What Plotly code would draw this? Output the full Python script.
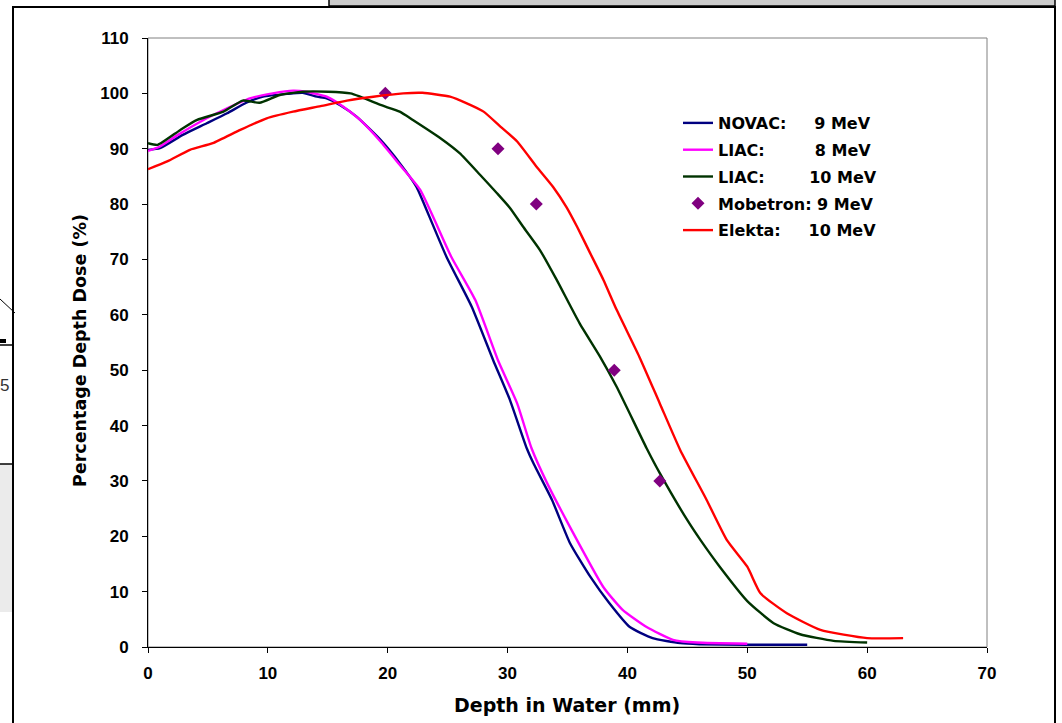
import plotly.graph_objects as go

# ---- data ----
novac_x = [0, 1, 2.9, 4.9, 6.6, 8.2, 9.6, 11.6, 12.9, 14.1, 14.9, 16, 17.4, 19.4, 21, 22.4, 22.9, 24.9, 27.0,
           28.8, 30.2, 31.6, 32.2, 33.7, 35.2, 36.9, 38.5, 40.2, 42.1, 44.4, 46, 50, 55]
novac_y = [89.8, 90.1, 92.5, 94.6, 96.4, 98.3, 99.4, 99.9, 100.1, 99.4, 99.1, 97.9, 95.8, 91.6, 87.4, 83.1, 80.7,
           70.5, 61.5, 51.8, 44.6, 35.9, 33.0, 26.6, 18.8, 12.7, 7.9, 3.6, 1.6, 0.7, 0.5, 0.4, 0.4]

liac8_x = [0, 1, 2.5, 4.9, 6.3, 8.5, 10.4, 12.1, 13.2, 14.9, 16.3, 17.7, 19.4, 21, 22.7, 25.3, 27.3, 29.2, 30.8,
           32.0, 33.3, 35.2, 38.0, 39.6, 41.6, 43.8, 45.8, 50]
liac8_y = [89.6, 90.4, 92.5, 95.5, 97.0, 99.1, 100, 100.5, 100.3, 99.4, 97.6, 95.2, 91.3, 87.1, 82.6, 70.5, 62.7,
           51.8, 44.0, 35.9, 29.6, 21.7, 10.8, 6.7, 3.6, 1.3, 0.8, 0.6]

liac10_x = [0, 0.8, 2.7, 4.1, 6.3, 7.9, 9.3, 11.0, 12.9, 15.0, 16.9, 17.7, 19.4, 21.0, 22.1, 24.4, 26.0, 27.7,
            29.1, 30.2, 31.3, 32.7, 34.1, 36.0, 37.7, 39.1, 41.6, 42.7, 45.0, 46.1, 47.7, 50.0, 52.2, 54.4,
            57.2, 60]
liac10_y = [91, 90.7, 93.4, 95.2, 96.7, 98.7, 98.3, 99.7, 100.3, 100.3, 100.0, 99.4, 97.9, 96.7, 95.2, 91.9,
            89.2, 85.3, 82.0, 79.3, 75.9, 71.7, 66.3, 58.5, 52.5, 47.0, 35.9, 31.4, 22.9, 19.3, 14.5, 8.3,
            4.3, 2.3, 1.1, 0.8]

mobetron_x = [19.8, 29.2, 32.4, 38.9, 42.7]
mobetron_y = [100, 90, 80, 50, 30]

elekta_x = [0, 1.6, 3.5, 5.4, 7.7, 9.9, 12.1, 14.4, 16.6, 18.8, 21.3, 22.9, 25.2, 26.6, 28, 29.4, 30.8, 32.4,
            33.8, 34.9, 35.8, 36.9, 38.0, 39.1, 41.0, 42.7, 44.4, 46.6, 48.3, 50.0, 51.1, 53.3, 56.1, 60, 63]
elekta_y = [86.3, 87.7, 89.8, 91, 93.4, 95.5, 96.7, 97.7, 98.7, 99.4, 100, 100.1, 99.4, 98.2, 96.7, 94, 91.3,
            86.8, 83.1, 79.5, 75.9, 71.1, 66.3, 60.9, 52.4, 44, 35.6, 26.6, 19.3, 14.5, 9.7, 6.1, 3.1, 1.6, 1.6]

x_ticks = [0, 10, 20, 30, 40, 50, 60, 70]
y_ticks = [0, 10, 20, 30, 40, 50, 60, 70, 80, 90, 100, 110]

NB = "\u00a0"
names = ["NOVAC:" + NB * 5 + "9 MeV",
         "LIAC:" + NB * 9 + "8 MeV",
         "LIAC:" + NB * 8 + "10 MeV",
         "Mobetron:" + NB + "9 MeV",
         "Elekta:" + NB * 5 + "10 MeV"]

W, H = 1062, 723
L, R, T, B = 148, 987, 38, 647  # plot area in pixels

line_kw = dict(width=2.4, shape="spline", smoothing=0.5)

fig = go.Figure()
fig.add_trace(go.Scatter(x=novac_x, y=novac_y, mode="lines", name=names[0], legendgroup="a",
                         line=dict(color="#000080", **line_kw)))
fig.add_trace(go.Scatter(x=liac8_x, y=liac8_y, mode="lines", name=names[1], legendgroup="b",
                         line=dict(color="#FF00FF", **line_kw)))
fig.add_trace(go.Scatter(x=liac10_x, y=liac10_y, mode="lines", name=names[2], legendgroup="c",
                         line=dict(color="#003300", **line_kw)))
fig.add_trace(go.Scatter(x=mobetron_x, y=mobetron_y, mode="markers", name=names[3], legendgroup="d",
                         marker=dict(color="#800080", symbol="diamond", size=10)))
fig.add_trace(go.Scatter(x=elekta_x, y=elekta_y, mode="lines", name=names[4], legendgroup="e",
                         line=dict(color="#FF0000", **line_kw)))


def px(xp):
    return (xp - L) / (R - L)


def py(yp):
    return (B - yp) / (B - T)


tickfont = dict(family="Liberation Sans, Arial", size=17, color="black", weight="bold")
fig.update_xaxes(range=[0, 70], tickvals=x_ticks, ticks="outside", ticklen=5, tickcolor="black",
                 showline=True, linecolor="black", linewidth=1, showgrid=False, zeroline=False,
                 tickfont=tickfont, ticklabelstandoff=6)
fig.update_yaxes(range=[0, 110], tickvals=y_ticks, ticks="outside", ticklen=5, tickcolor="black",
                 showline=True, linecolor="black", linewidth=1, showgrid=False, zeroline=False,
                 tickfont=tickfont, ticklabelstandoff=10)

shapes = [
    # plot-area grey border (top/right)
    dict(type="rect", xref="paper", yref="paper", x0=0, x1=1, y0=0, y1=1,
         line=dict(color="#808080", width=1), layer="below"),
    # outer chart frame
    dict(type="rect", xref="paper", yref="paper", x0=px(13), x1=px(1055), y0=py(740), y1=py(7),
         line=dict(color="black", width=2)),
    # grey box at top
    dict(type="rect", xref="paper", yref="paper", x0=px(329), x1=px(1055), y0=py(6), y1=py(-2),
         line=dict(color="black", width=1.5), fillcolor="#cccccc"),
    # left page fragments
    dict(type="rect", xref="paper", yref="paper", x0=px(-2), x1=px(12), y0=py(612), y1=py(464),
         line=dict(width=0), fillcolor="#ebebeb"),
    dict(type="line", xref="paper", yref="paper", x0=px(-2), x1=px(13), y0=py(464), y1=py(464),
         line=dict(color="black", width=1.5)),
    dict(type="line", xref="paper", yref="paper", x0=px(-2), x1=px(13), y0=py(345), y1=py(345),
         line=dict(color="black", width=1.5)),
    dict(type="rect", xref="paper", yref="paper", x0=px(-2), x1=px(6), y0=py(343), y1=py(339),
         line=dict(width=0), fillcolor="black"),
    dict(type="line", xref="paper", yref="paper", x0=px(0), x1=px(15), y0=py(299), y1=py(313),
         line=dict(color="black", width=1)),
]

annotations = [
    dict(text="<b>Depth in Water (mm)</b>", xref="paper", yref="paper", x=px(567), y=py(705),
         showarrow=False, font=dict(family="DejaVu Sans", size=19, color="black"),
         xanchor="center", yanchor="middle"),
    dict(text="<b>Percentage Depth Dose (%)</b>", xref="paper", yref="paper", x=px(80), y=py(351),
         showarrow=False, textangle=-90, font=dict(family="DejaVu Sans", size=17.5, color="black"),
         xanchor="center", yanchor="middle"),
    dict(text="5", xref="paper", yref="paper", x=px(11), y=py(385), showarrow=False,
         font=dict(family="Liberation Sans, Arial", size=17, color="#333333"),
         xanchor="right", yanchor="middle"),
]

fig.update_layout(
    width=W, height=H,
    margin=dict(l=L, r=W - R, t=T, b=H - B, autoexpand=False),
    paper_bgcolor="white", plot_bgcolor="white",
    showlegend=True,
    legend=dict(x=px(678), y=py(106), xanchor="left", yanchor="top",
                font=dict(family="DejaVu Sans", size=16, color="black", weight="bold"),
                bgcolor="rgba(0,0,0,0)", tracegroupgap=3, itemwidth=30),
    shapes=shapes, annotations=annotations,
)

fig.write_html("out.html", config={"displayModeBar": False},
               post_script="document.body.style.margin='0';document.body.style.padding='0';")
